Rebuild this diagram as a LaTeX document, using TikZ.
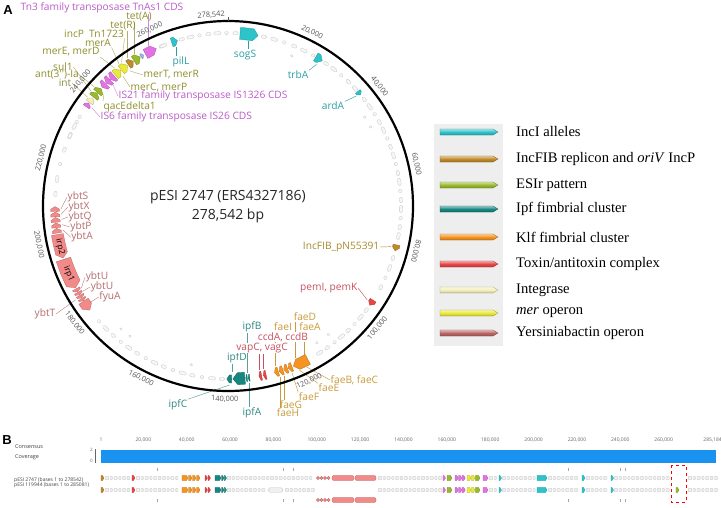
\documentclass[tikz,border=0pt]{standalone}
\usepackage{fontspec}
\setmainfont{Open Sans}
\newfontfamily\legfont{Liberation Serif}
\newfontfamily\panelfont{Liberation Sans}
\usetikzlibrary{positioning,backgrounds}
% feature colours
\definecolor{incicol}{HTML}{2CC3CB}
\definecolor{incfibcol}{HTML}{C08A28}
\definecolor{esircol}{HTML}{9AB92C}
\definecolor{ipfcol}{HTML}{16877F}
\definecolor{klfcol}{HTML}{F59420}
\definecolor{toxcol}{HTML}{E84545}
\definecolor{intcol}{HTML}{F3EFBA}
\definecolor{mercol}{HTML}{E9E93C}
\definecolor{ybtcol}{HTML}{BC6464}
\definecolor{ybtfeat}{HTML}{F28A8A}
\definecolor{tnpcol}{HTML}{E373E3}
\definecolor{tinyblue}{HTML}{8FB8E8}
% label colours
\definecolor{tealtxt}{HTML}{2B9EA3}
\definecolor{ipftxt}{HTML}{2E8784}
\definecolor{fibtxt}{HTML}{A68A2E}
\definecolor{faetxt}{HTML}{C99A3A}
\definecolor{toxtxt}{HTML}{C8505E}
\definecolor{ybttxt}{HTML}{B46B6B}
\definecolor{olivetxt}{HTML}{8E8E2C}
\definecolor{tnptxt}{HTML}{B95BC7}
\definecolor{tickgrey}{HTML}{555555}
\definecolor{covblue}{HTML}{1A93F0}
\definecolor{leggrey}{HTML}{EEEEEE}

% arc feature on the map: [half width]{start angle}{end angle (tip)}{colour}
\newcommand\arcfeat[4][4]{%
  \pgfmathsetmacro\fb{#2}%
  \pgfmathsetmacro\fe{#3}%
  \pgfmathsetmacro\fn{\fe-sign(\fe-\fb)*min(1.6,0.55*abs(\fe-\fb))}%
  \pgfmathsetmacro\ri{173-#1}\pgfmathsetmacro\ro{173+#1}%
  \filldraw[fill=#4, draw=#4!75!black, line width=0.3pt]
    (\fb:\ri) arc[start angle=\fb, end angle=\fn, radius=\ri] -- (\fe:173)
    -- (\fn:\ro) arc[start angle=\fn, end angle=\fb, radius=\ro] -- cycle;}
% grey features along the map: {start}{next}{end}
\newcommand\grayarc[3]{%
  \foreach \a [count=\i] in {#1,#2,...,#3}
    \node[gfeat, minimum width={3.5+1.8*mod(\i,3)}, rotate={90-\a}] at (\a:173) {};}
% grey features on an alignment row: {start}{next}{end}{row y}
\newcommand\grayrun[4]{%
  \foreach \x [count=\i] in {#1,#2,...,#3}
    \filldraw[gseg] ({\x-1.2-0.5*mod(\i,2)},#4-1.7) rectangle ({\x+1.2+0.5*mod(\i,2)},#4+1.7);}
% coloured feature on an alignment row: {x1}{x2}{row y}{colour}
\newcommand\rowfeat[4]{%
  \filldraw[fill=#4, draw=#4!75!black, line width=0.25pt] (#1,#3-2.6) -- ({#2-1.6},#3-2.6)
    -- (#2,#3) -- ({#2-1.6},#3+2.6) -- (#1,#3+2.6) -- cycle;}

\begin{document}
\begin{tikzpicture}[x=1pt, y=-1pt,
  lbl/.style={font=\fontsize{10.2}{11}\selectfont, inner sep=0.5pt},
  lead/.style={line width=0.45pt},
  tklabel/.style={font=\fontsize{7.4}{8}\selectfont, text=tickgrey, inner sep=0pt},
  gfeat/.style={draw=gray!45, fill=gray!6, line width=0.3pt, rounded corners=1.2pt, minimum height=3.2pt, inner sep=0pt},
  gseg/.style={draw=gray!50, fill=gray!12, line width=0.25pt, rounded corners=0.8pt},
  masked/.style={fill=white},
  legtext/.style={font=\legfont\fontsize{14.6}{16}\selectfont, inner sep=0pt},
  btxt/.style={font=\fontsize{5.5}{6}\selectfont, text=black!75, inner sep=0pt, anchor=west},
  rtick/.style={font=\fontsize{5}{6}\selectfont, text=black!60, inner sep=0pt}
]
\useasboundingbox (0,0) rectangle (721,507);

% --- Panel A: plasmid map ---
\node (panelA) [font=\panelfont\bfseries\fontsize{13}{13}\selectfont] at (8,10) {A};

\begin{scope}[shift={(228,206)}]
\draw[line width=2.2pt] (0,0) circle[radius=185];
\draw[tickgrey, line width=0.4pt] (-90:185) -- (-90:189);

% position labels
\foreach \p in {20,40,...,260}{
  \pgfmathsetmacro\ta{\p/278.542*360}
  \pgfmathsetmacro\tr{(\ta>110 && \ta<270) ? 180-\ta : -\ta}
  \node (tk\p) [tklabel, rotate=\tr] at ({\ta-90}:193) {\p,000};
}

% grey features
\grayarc{-112.5}{-112}{-112}
\grayarc{-105.5}{-102.5}{-87.5}
\grayarc{-78}{-74.5}{-60}
\grayarc{-55.5}{-52.3}{-42}
\grayarc{-38}{-35}{10.5}
\grayarc{17.5}{21}{31}
\grayarc{37}{40}{60.5}
\grayarc{92}{95.3}{141}
\grayarc{184}{189}{213}
\grayarc{-156}{-152.5}{-148}
\foreach \a in {-67,-33,-29,52,57,103,127,131}
  \node[gfeat, minimum width=2.5pt, minimum height=2.5pt, rotate={90-\a}] at (\a:163) {};

% IncI alleles
\arcfeat[6]{-86}{-80}{incicol}
\arcfeat[4.5]{-109}{-107}{incicol}
\arcfeat[4.5]{-59.5}{-57}{incicol}
\arcfeat[3]{-41.4}{-40}{incicol}
% IncFIB replicon
\arcfeat[3.5]{13}{15}{incfibcol}
% toxin/antitoxin
\arcfeat[3.5]{33}{35}{toxcol}
\arcfeat[4.5]{77.3}{78.2}{toxcol}
\arcfeat[4.5]{78.8}{79.7}{toxcol}
% Klf fimbrial cluster
\arcfeat[5.5]{62.5}{67.8}{klfcol}
\foreach \s/\e in {68.3/69.6,69.9/71.2,71.5/72.8,73.1/74.4}{\arcfeat[4.5]{\s}{\e}{klfcol}}
% Ipf fimbrial cluster
\arcfeat[3.5]{82.8}{83.3}{ipfcol}
\arcfeat[3.5]{83.6}{84.1}{ipfcol}
\arcfeat[6]{84.4}{88.4}{ipfcol}
\arcfeat[4]{88.8}{90.4}{ipfcol}
% Yersiniabactin operon
\foreach \s/\e in {171/172.6,172.8/174.4,174.6/176.2,176.4/178,178.2/179.8}{\arcfeat[4.5]{\s}{\e}{ybtfeat}}
\arcfeat[6]{170.5}{162.5}{ybtfeat}
\arcfeat[7.5]{162}{151.8}{ybtfeat}
\foreach \s/\e in {151.4/150.3,150.1/149.1,148.9/147.9,147.7/146.8}{\arcfeat[4]{\s}{\e}{ybtfeat}}
\arcfeat[5.5]{146.6}{143}{ybtfeat}
\node (tirp2) [font=\fontsize{8.5}{8}\selectfont, rotate=-76.3, inner sep=0pt] at (166.3:173) {irp2};
\node (tirp1) [font=\fontsize{8.5}{8}\selectfont, rotate=-67, inner sep=0pt] at (157:173) {irp1};
% ESIr / mer / transposases
\arcfeat[5]{-118.5}{-114.5}{tnpcol}
\arcfeat[2.5]{-120.2}{-119.2}{tinyblue}
\arcfeat[5]{-122.9}{-120.5}{esircol}
\arcfeat[4.5]{-125.2}{-123.2}{incfibcol}
\arcfeat[5]{-130.7}{-128.3}{mercol}
\arcfeat[5]{-128.1}{-125.5}{mercol}
\foreach \s/\e in {-131.2/-132.9,-133.1/-134.8,-135/-136.7}{\arcfeat[5.5]{\s}{\e}{tnpcol}}
\arcfeat[5]{-141}{-139.2}{esircol}
\arcfeat[5]{-139}{-137.2}{esircol}
\arcfeat[4]{-143.2}{-141.4}{intcol}
\arcfeat[3.5]{-145}{-143.5}{tnpcol}

% leader end points
\coordinate (fTn3) at (-116.5:179);
\coordinate (ftetA) at (-121.7:179);
\coordinate (ftetR) at (-124.2:179);
\coordinate (fincP) at (-126.5:179);
\coordinate (fmerA) at (-127.5:179);
\coordinate (fmerED) at (-129.5:179);
\coordinate (fsul) at (-140:179);
\coordinate (fant) at (-138.3:179);
\coordinate (fint) at (-142.2:178);
\coordinate (fmerTR) at (-126:167);
\coordinate (fmerCP) at (-129:167);
\coordinate (fIS21) at (-133.5:167);
\coordinate (fqac) at (-138:167);
\coordinate (fIS6) at (-144.2:168);
\coordinate (fsogS) at (-83:166);
\coordinate (ftrbA) at (-58:167);
\coordinate (fardA) at (-40.6:169);
\coordinate (fpilL) at (-108:167);
\coordinate (fIncFIB) at (14:168);
\coordinate (fpem) at (34:168);
\coordinate (fipfB) at (83.4:168);
\coordinate (fipfD) at (88.5:166);
\coordinate (fipfC) at (89.5:179);
\coordinate (fipfA) at (83:178);
\coordinate (fvap1) at (77.8:167);
\coordinate (fvap2) at (79.3:167);
\coordinate (ffaeI) at (73.5:167);
\coordinate (ffaeD) at (66:166);
\coordinate (ffaeA) at (63:167);
\coordinate (ffaeBC) at (64:179);
\coordinate (ffaeE) at (66.5:179);
\coordinate (ffaeF) at (69:179);
\coordinate (ffaeG) at (71.6:179);
\coordinate (ffaeH) at (73.2:179);
\coordinate (fybtS) at (179:167);
\coordinate (fybtX) at (177.2:167);
\coordinate (fybtQ) at (175.4:167);
\coordinate (fybtP) at (173.6:167);
\coordinate (fybtA) at (171.8:167);
\coordinate (fybtU1) at (150.8:168);
\coordinate (fybtU2) at (149.6:168);
\coordinate (ffyuA) at (145:167);
\coordinate (fybtT) at (148.4:179);
\end{scope}

\node (tktop) [tklabel, rotate=4] at (211,15) {278,542};
\node (pname) [font=\fontsize{14}{15}\selectfont, text=black!85] at (228,197) {pESI 2747 (ERS4327186)};
\node (plen) [font=\fontsize{14}{15}\selectfont, text=black!85] at (228,216) {278,542 bp};

% --- Labels: top left ---
\node (lTn3) [lbl, text=tnptxt] at (102,8) {Tn3 family transposase TnAs1 CDS};
\node (ltetA) [lbl, text=olivetxt] at (139,17) {tet(A)};
\node (ltetR) [lbl, text=olivetxt] at (123,26) {tet(R)};
\node (lincP) [lbl, text=olivetxt] at (94,34) {incP\enspace Tn1723};
\node (lmerA) [lbl, text=olivetxt] at (98,43) {merA};
\node (lmerED) [lbl, text=olivetxt] at (71,52) {merE, merD};
\node (lsul) [lbl, text=olivetxt] at (63,67) {sul1};
\node (lant) [lbl, text=olivetxt] at (57,75) {ant(3\textquotesingle\textquotesingle)-Ia};
\node (lint) [lbl, text=olivetxt!70!gray] at (65,83) {int};
\node (lmerTR) [lbl, text=olivetxt, anchor=west] at (143,75) {merT, merR};
\node (lmerCP) [lbl, text=olivetxt, anchor=west] at (130,87) {merC, merP};
\node (lIS21) [lbl, text=tnptxt, anchor=west] at (118,96) {IS21 family transposase IS1326 CDS};
\node (lqac) [lbl, text=olivetxt, anchor=west] at (103,107) {qacEdelta1};
\node (lIS6) [lbl, text=tnptxt, anchor=west] at (100,117) {IS6 family transposase IS26 CDS};

% --- Labels: top right ---
\node (lsogS) [lbl, text=tealtxt] at (245,55) {sogS};
\node (ltrbA) [lbl, text=tealtxt] at (298,75) {trbA};
\node (lardA) [lbl, text=tealtxt] at (333,106) {ardA};
\node (lpilL) [lbl, text=tealtxt] at (181,62) {pilL};
\node (lIncFIB) [lbl, text=fibtxt, anchor=east] at (380,247) {IncFIB\_pN55391};
\node (lpem) [lbl, text=toxtxt, anchor=east] at (358,288) {pemI, pemK};

% --- Labels: bottom ---
\node (lipfB) [lbl, text=ipftxt] at (252,327) {ipfB};
\node (lipfD) [lbl, text=ipftxt] at (237,358) {ipfD};
\node (lipfC) [lbl, text=ipftxt] at (178,405) {ipfC};
\node (lipfA) [lbl, text=ipftxt] at (252,413) {ipfA};
\node (lfaeD) [lbl, text=faetxt] at (305,317) {faeD};
\node (lfaeI) [lbl, text=faetxt, masked] at (283,327) {faeI};
\node (lfaeA) [lbl, text=faetxt] at (310,327) {faeA};
\node (lccd) [lbl, text=toxtxt, masked] at (283,337) {ccdA, ccdB};
\node (lvap) [lbl, text=toxtxt, masked] at (262,348) {vapC, vagC};
\node (lfaeBC) [lbl, text=faetxt, anchor=west] at (330,380) {faeB, faeC};
\node (lfaeE) [lbl, text=faetxt] at (329,388) {faeE};
\node (lfaeF) [lbl, text=faetxt] at (309,397) {faeF};
\node (lfaeG) [lbl, text=faetxt] at (291,405) {faeG};
\node (lfaeH) [lbl, text=faetxt] at (288,413) {faeH};

% --- Labels: left ---
\node (lybtS) [lbl, text=ybttxt] at (78,197) {ybtS};
\node (lybtX) [lbl, text=ybttxt] at (79,207) {ybtX};
\node (lybtQ) [lbl, text=ybttxt] at (80,217) {ybtQ};
\node (lybtP) [lbl, text=ybttxt] at (81,227) {ybtP};
\node (lybtA) [lbl, text=ybttxt] at (82,237) {ybtA};
\node (lybtU1) [lbl, text=ybttxt] at (97,277) {ybtU};
\node (lybtU2) [lbl, text=ybttxt] at (102,287) {ybtU};
\node (lfyuA) [lbl, text=ybttxt] at (110,297) {fyuA};
\node (lybtT) [lbl, text=ybttxt] at (45,314) {ybtT};

% --- Leaders ---
\begin{scope}[on background layer]
\draw[lead, tnptxt!70] (lTn3.south -| fTn3) -- (fTn3);
\draw[lead, olivetxt!70] (ltetA.south -| ftetA) -- (ftetA);
\draw[lead, olivetxt!70] (ltetR.south -| ftetR) -- (ftetR);
\draw[lead, olivetxt!70] (lincP.south east) -- (fincP);
\draw[lead, olivetxt!70] (lmerA.south east) -- (fmerA);
\draw[lead, olivetxt!70] (lmerED.south east) -- (fmerED);
\draw[lead, olivetxt!70] (lsul.east) -- (fsul);
\draw[lead, olivetxt!70] (lant.east) -- (fant);
\draw[lead, olivetxt!70] (lint.east) -- (fint);
\draw[lead, olivetxt!70] (lmerTR.west) -- (fmerTR);
\draw[lead, olivetxt!70] (lmerCP.west) -- (fmerCP);
\draw[lead, tnptxt!70] (lIS21.west) -- (fIS21);
\draw[lead, olivetxt!70] (lqac.north west) -- (fqac);
\draw[lead, tnptxt!70] (lIS6.west) -- (fIS6);
\draw[lead, tealtxt] (lsogS.north -| fsogS) -- (fsogS);
\draw[lead, tealtxt] (ltrbA.north east) -- (ftrbA);
\draw[lead, tealtxt] (lardA.north east) -- (fardA);
\draw[lead, tealtxt] (lpilL.north -| fpilL) -- (fpilL);
\draw[lead, fibtxt] (lIncFIB.east) -- (fIncFIB);
\draw[lead, toxtxt] (lpem.east) -- (fpem);
\draw[lead, ipftxt!80] (lipfB.south -| fipfB) -- (fipfB);
\draw[lead, ipftxt!80] (lipfD.south -| fipfD) -- (fipfD);
\draw[lead, ipftxt!80] (lipfC.north east) -- (fipfC);
\draw[lead, ipftxt!80] (lipfA.north -| fipfA) -- (fipfA);
\draw[lead, toxtxt] (lvap.south -| fvap1) -- (fvap1);
\draw[lead, toxtxt] (lvap.south -| fvap2) -- (fvap2);
\draw[lead, faetxt] (lfaeI.south -| ffaeI) -- (ffaeI);
\draw[lead, faetxt] (lfaeD.south -| ffaeD) -- (ffaeD);
\draw[lead, faetxt] (lfaeA.south -| ffaeA) -- (ffaeA);
\draw[lead, faetxt] (lfaeBC.west) -- (ffaeBC);
\draw[lead, faetxt] (lfaeE.north west) -- (ffaeE);
\draw[lead, faetxt] (lfaeF.north west) -- (ffaeF);
\draw[lead, faetxt] (lfaeG.north -| ffaeG) -- (ffaeG);
\draw[lead, faetxt] (lfaeH.north -| ffaeH) -- (ffaeH);
\draw[lead, ybttxt!80] (lybtS.west) -- (fybtS);
\draw[lead, ybttxt!80] (lybtX.west) -- (fybtX);
\draw[lead, ybttxt!80] (lybtQ.west) -- (fybtQ);
\draw[lead, ybttxt!80] (lybtP.west) -- (fybtP);
\draw[lead, ybttxt!80] (lybtA.west) -- (fybtA);
\draw[lead, ybttxt!80] (lybtU1.west) -- (fybtU1);
\draw[lead, ybttxt!80] (lybtU2.west) -- (fybtU2);
\draw[lead, ybttxt!80] (lfyuA.west) -- (ffyuA);
\draw[lead, ybttxt!80] (lybtT.east) -- (fybtT);
\end{scope}

% --- Legend ---
\fill[leggrey] (434,124) rectangle (503,346);
\foreach \ly/\lc/\lt [count=\i] in {132/incicol/{IncI alleles},
    159/incfibcol/{IncFIB replicon and \textit{oriV} IncP},
    185/esircol/{ESIr pattern},
    209/ipfcol/{Ipf fimbrial cluster},
    237/klfcol/{Klf fimbrial cluster},
    264/toxcol/{Toxin/antitoxin complex},
    290/intcol/{Integrase},
    313/mercol/{\textit{mer} operon},
    333/ybtcol/{Yersiniabactin operon}}{
  \shade[top color=\lc!45!white, bottom color=\lc!80!black, middle color=\lc, draw=\lc!70!black, line width=0.3pt]
    (440,\ly-3) -- (493,\ly-3) -- (498,\ly) -- (493,\ly+3) -- (440,\ly+3) -- cycle;
  \coordinate (legarr\i) at (498,\ly);
  \node (legtxt\i) [legtext, right=18pt of legarr\i] {\lt};
}

% --- Panel B: alignment ---
\node (panelB) [font=\panelfont\bfseries\fontsize{13}{13}\selectfont] at (7,440) {B};
\node (rl1) [rtick] at (101,440) {1};
\foreach \k in {20,40,...,260} \node (rl\k) [rtick] at ({100+2.168*\k},440) {\k,000};
\node (rlend) [rtick, anchor=east] at (722,440) {285,184};
\node (consensus) [btxt] at (15,447) {Consensus};
\node (coverage) [btxt] at (15,457) {Coverage};
\fill[covblue] (101,450) rectangle (716,463);
\draw[black!60, line width=0.3pt] (95,449) -- (95,463);
\node (cov2) [rtick, font=\fontsize{4.5}{5}\selectfont] at (91.5,450) {2};
\node (cov0) [rtick, font=\fontsize{4.5}{5}\selectfont] at (91.5,461) {0};
\node (seq1) [btxt, font=\fontsize{5}{5}\selectfont] at (14,480.5) {pESI 2747 (bases 1 to 278542)};
\node (seq2) [btxt, font=\fontsize{5}{5}\selectfont] at (14,485.5) {pESI 119944 (bases 1 to 285081)};

% small marks above and below the rows
\foreach \mx in {157,283,293,568,620,625}{
  \draw[gray!70, line width=0.3pt] (\mx,467.5) -- (\mx,470.5);
  \draw[gray!70, line width=0.3pt] (\mx,499) -- (\mx,502);
}

% grey features on both rows
\foreach \ry in {478,490}{
  \grayrun{107}{111.3}{130}{\ry}
  \grayrun{138}{142.3}{180}{\ry}
  \grayrun{380}{384.3}{441}{\ry}
  \grayrun{491}{495.3}{497}{\ry}
  \grayrun{504}{508.3}{535}{\ry}
  \grayrun{550}{554.3}{580}{\ry}
  \grayrun{588}{592.3}{609}{\ry}
  \grayrun{616}{620.3}{668}{\ry}
  \grayrun{690}{694.3}{716}{\ry}
}
\grayrun{229}{233.3}{314}{478}
\grayrun{229}{233.3}{265}{490}
\filldraw[gseg, rounded corners=1.8pt] (268,487.8) rectangle (283,492.2);
\grayrun{287}{291.3}{314}{490}

% coloured features on both rows
\foreach \ry in {478,490}{
  \rowfeat{101}{104}{\ry}{incfibcol}
  \rowfeat{132}{135}{\ry}{toxcol}
  \rowfeat{182}{188}{\ry}{klfcol}
  \rowfeat{188.5}{192}{\ry}{klfcol}
  \rowfeat{192.5}{196}{\ry}{klfcol}
  \rowfeat{196.5}{200}{\ry}{klfcol}
  \rowfeat{205}{207.5}{\ry}{toxcol}
  \rowfeat{208}{210.5}{\ry}{toxcol}
  \rowfeat{215}{221}{\ry}{ipfcol}
  \rowfeat{221.5}{224}{\ry}{ipfcol}
  \rowfeat{224.3}{226.5}{\ry}{ipfcol}
  \rowfeat{443}{445.5}{\ry}{tnpcol}
  \rowfeat{447}{452}{\ry}{esircol}
  \rowfeat{455}{458.3}{\ry}{tnpcol}
  \rowfeat{458.6}{461.8}{\ry}{tnpcol}
  \rowfeat{462.1}{465.3}{\ry}{tnpcol}
  \rowfeat{467}{471}{\ry}{mercol}
  \rowfeat{471.4}{475}{\ry}{mercol}
  \rowfeat{475.4}{480}{\ry}{esircol}
  \rowfeat{483}{488}{\ry}{tnpcol}
  \rowfeat{499}{501.5}{\ry}{incicol}
  \rowfeat{537}{547}{\ry}{incicol}
  \rowfeat{582}{585}{\ry}{incicol}
  \rowfeat{611}{613.5}{\ry}{incicol}
}
\rowfeat{676}{679}{490}{esircol}
% yersiniabactin block (row 1 and the lower line of row 2)
\foreach \sy in {478,500}{
  \foreach \cx in {318,321.5,...,330} \filldraw[fill=ybtfeat, draw=ybtfeat!75!black, line width=0.25pt] (\cx,\sy) circle[radius=1.6];
  \filldraw[fill=ybtfeat, draw=ybtfeat!75!black, line width=0.25pt, rounded corners=2pt] (332,\sy-2.6) rectangle (354,\sy+2.6);
  \filldraw[fill=ybtfeat, draw=ybtfeat!75!black, line width=0.25pt, rounded corners=2pt] (355,\sy-2.6) rectangle (376,\sy+2.6);
}
\draw[red, dashed, line width=0.7pt] (671,465) rectangle (686,502);

\end{tikzpicture}
\end{document}
